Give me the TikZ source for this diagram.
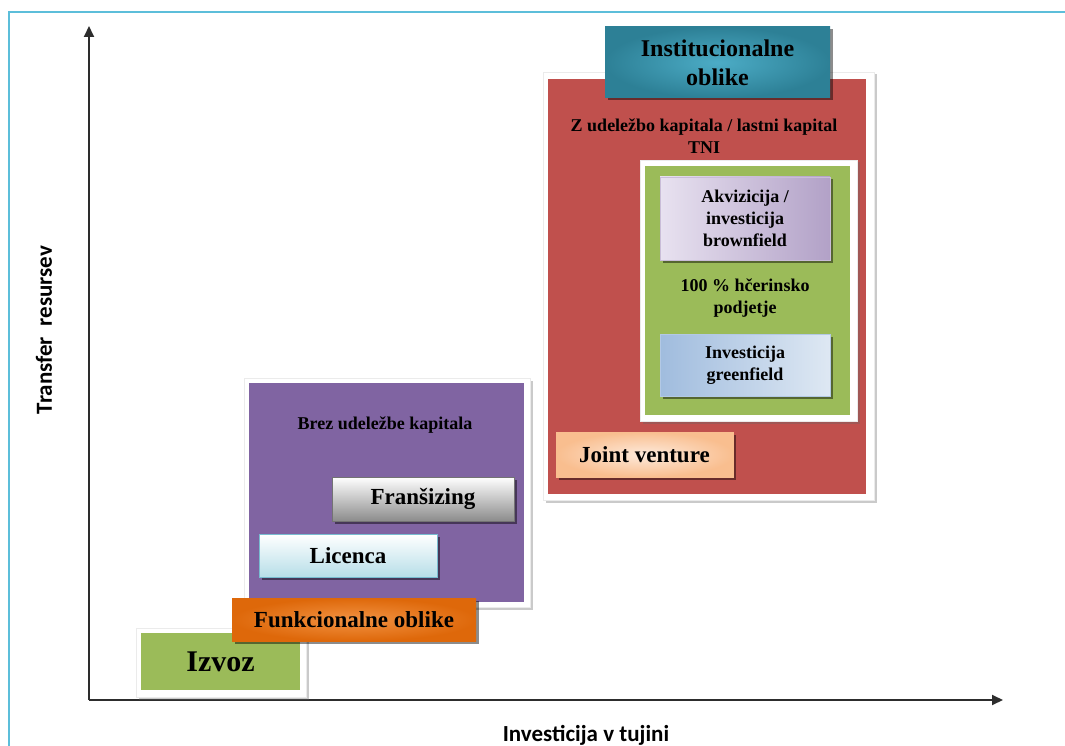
\documentclass[tikz,border=0pt]{standalone}
\usepackage{fontspec}
\setmainfont{Liberation Serif}
\newfontfamily\axisfont{Carlito}
\usetikzlibrary{shadows,arrows.meta}

\definecolor{frameblue}{RGB}{92,190,218}
\definecolor{axisgray}{RGB}{45,45,45}
\definecolor{exportgreen}{RGB}{155,187,89}
\definecolor{orangeDark}{RGB}{222,104,10}
\definecolor{orangeLight}{RGB}{242,146,66}
\definecolor{violetpanel}{RGB}{128,100,162}
\definecolor{redpanel}{RGB}{192,80,77}
\definecolor{tealDark}{RGB}{45,128,150}
\definecolor{tealLight}{RGB}{76,172,198}
\definecolor{greyDark}{RGB}{140,140,140}
\definecolor{cyanLight}{RGB}{183,222,232}
\definecolor{cyanEdge}{RGB}{120,188,208}
\definecolor{lilacLight}{RGB}{232,226,240}
\definecolor{lilacDark}{RGB}{178,161,199}
\definecolor{blueLight}{RGB}{222,232,243}
\definecolor{blueDark}{RGB}{160,188,222}
\definecolor{peachLight}{RGB}{253,234,219}
\definecolor{peachDark}{RGB}{249,190,143}

\tikzset{
  area/.style={rectangle, inner sep=0pt, outer sep=0pt},
  size/.style 2 args={minimum width=#1pt, minimum height=#2pt},
  shade2/.style={drop shadow={shadow xshift=2.5pt, shadow yshift=-2.5pt, fill=black, opacity=0.45}},
  whiteframe/.style={area, fill=white, draw=black!8, line width=0.6pt,
    drop shadow={shadow xshift=2.5pt, shadow yshift=-2.5pt, fill=black!60, opacity=0.35}},
  label/.style={align=center, text=black, inner sep=0pt},
  bigtext/.style={font=\bfseries\fontsize{23}{26}\selectfont},
  smalltext/.style={font=\bfseries\fontsize{18}{22}\selectfont},
  axistext/.style={font=\axisfont\bfseries\fontsize{23}{26}\selectfont},
  axisline/.style={draw=axisgray, line width=1.8pt, -{Triangle[length=11pt, width=10pt]}}
}

\begin{document}
\begin{tikzpicture}[x=1pt, y=-1pt]
\useasboundingbox (0,0) rectangle (1065,746);

% outer frame (top and left edges only)
\coordinate (frTR) at (1065,12);
\coordinate (frTL) at (9,12);
\coordinate (frBL) at (9,746);
\draw[frameblue, line width=1.3pt] (frTR) -- (frTL) -- (frBL);

% axes
\coordinate (origin) at (89,700);
\coordinate (ytip) at (89,26);
\coordinate (xtip) at (1003,700);
\draw[axisline] (origin) -- (ytip);
\draw[axisline] (origin) -- (xtip);
\node[axistext, rotate=90] (ylab) at (44,330) {Transfer\ \ resursev};
\node[axistext] (xlab) at (586,735) {Investicija v tujini};

% functional forms: panel without equity
\node[whiteframe, size={286}{229}] (brezframe) at (387,492.5) {};
\node[area, fill=violetpanel, size={275}{219}] (brez) at (386.5,492.5) {};
\node[label, smalltext] (brezlab) at (385,425) {Brez udeležbe kapitala};
\node[area, shade2, draw=black!55, line width=0.6pt, top color=white, bottom color=greyDark,
      size={182}{44}, label, bigtext] (fran) at (423,499) {Franšizing};
\node[area, shade2, draw=cyanEdge, line width=0.6pt, top color=white, bottom color=cyanLight,
      size={178}{43}, label, bigtext] (lic) at (348,555.5) {Licenca};

% institutional forms: panel with equity
\node[whiteframe, size={331}{428}] (zframe) at (708.5,286) {};
\node[area, fill=redpanel, size={318}{415}] (zpanel) at (707,286.5) {};
\node[label, smalltext] (zlab) at (704,136) {Z udeležbo kapitala / lastni kapital\\TNI};
\node[whiteframe, size={217}{261}] (hframe) at (748.5,290.5) {};
\node[area, fill=exportgreen, size={205}{249}] (hpanel) at (747.5,290.5) {};
\node[area, shade2, draw=lilacDark!70, line width=0.5pt, left color=lilacLight, right color=lilacDark,
      size={170}{83}, label, smalltext] (akv) at (745,218.5) {Akvizicija /\\investicija\\brownfield};
\node[label, smalltext] (hlab) at (745,298) {100 \% hčerinsko\\podjetje};
\node[area, shade2, draw=blueDark!80, line width=0.5pt, left color=blueDark, right color=blueLight,
      size={170}{62}, label, smalltext] (green) at (745,365) {Investicija\\greenfield};
\node[area, shade2, draw=peachDark, line width=0.5pt, inner color=peachLight, outer color=peachDark,
      size={177}{45}, label, bigtext] (jv) at (644.5,454.5) {Joint venture};
\node[area, shade2, inner color=tealLight, outer color=tealDark,
      size={225}{71}, label, font=\bfseries\fontsize{24}{29}\selectfont] (inst) at (717.5,62.5) {Institucionalne\\oblike};

% export
\node[whiteframe, size={170}{69}] (izframe) at (221,662.5) {};
\node[area, fill=exportgreen, size={159}{57}, label, font=\bfseries\fontsize{30}{32}\selectfont] (izvoz) at (220.5,661.5) {Izvoz};

% functional forms heading
\node[area, shade2, inner color=orangeLight, outer color=orangeDark,
      size={244}{43}, label, bigtext] (funk) at (354,619.5) {Funkcionalne oblike};
\end{tikzpicture}
\end{document}
